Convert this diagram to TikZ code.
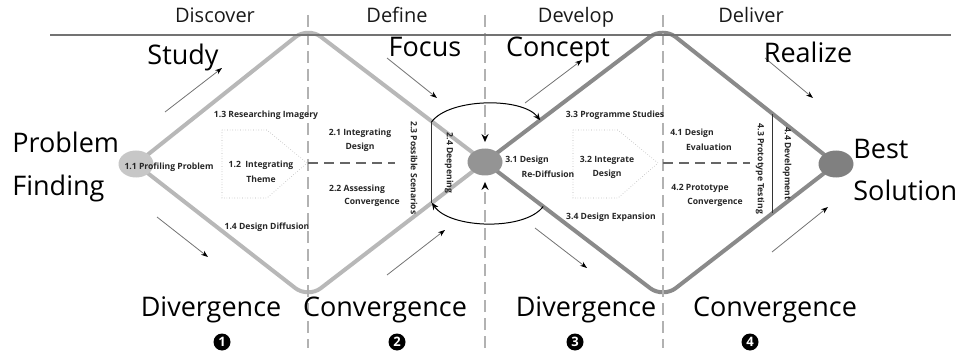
\documentclass[tikz,border=0pt]{standalone}
\usepackage{fontspec}
\setmainfont{Open Sans}
\usetikzlibrary{arrows.meta,calc,shapes.geometric,backgrounds}

\begin{document}
\begin{tikzpicture}[x=0.5pt,y=-0.5pt,
	phase/.style={font=\fontsize{10}{12}\selectfont, text=black!90, anchor=base},
	word/.style={font=\fontsize{13.5}{16}\selectfont, anchor=base, inner sep=0pt},
	lbl/.style={font=\bfseries\fontsize{4.3}{5.5}\selectfont, inner sep=0pt, text=black!85},
	path1/.style={draw=black!28, line width=2pt, rounded corners=8pt},
	path2/.style={draw=black!46, line width=2pt, rounded corners=8pt},
	vtx/.style={ellipse, minimum width=17.5pt, minimum height=13.5pt, inner sep=0pt},
	guide/.style={draw=black!30, line width=1.2pt, dash pattern=on 6pt off 3pt},
	split/.style={draw=black!60, line width=0.8pt, dash pattern=on 5pt off 3pt},
	pent/.style={draw=black!30, densely dotted, line width=0.3pt},
	flow/.style={draw=black!55, line width=0.4pt, -{Stealth[length=3.5pt,width=2.5pt,color=black]}},
	swing/.style={draw=black, line width=0.5pt, -{Stealth[length=3.5pt,width=3pt]}},
	num/.style={circle, fill=black, text=white, font=\bfseries\fontsize{6.5}{7}\selectfont, minimum size=8.5pt, inner sep=0pt},
]

% frame %{{{2

	\useasboundingbox (0,0) rectangle (964,353);

% parameters %{{{2

	\def\ytop{27}
	\def\ybot{298}

% vertices %{{{2

	\node[vtx, fill=black!22] (pf) at (136,164) {};
	\node[vtx, fill=black!42] (ctr) at (485,162) {};
	\node[vtx, fill=black!50] (best) at (836,164) {};

	\coordinate (t1) at (308,\ytop);
	\coordinate (b1) at (308,\ybot);
	\coordinate (t2) at (663,\ytop);
	\coordinate (b2) at (663,\ybot);

% phase guides %{{{2

	\foreach \x in {308,663} { \draw[guide] (\x,15) -- (\x,348); }

	\coordinate (gtop) at (485,15);
	\coordinate (gbot) at (485,348);
	\draw[guide, -{Stealth[length=4pt,width=3.5pt,color=black]}, shorten >=3pt] (gtop) -- (ctr);
	\draw[guide, -{Stealth[length=4pt,width=3.5pt,color=black]}, shorten >=3pt] (gbot) -- (ctr);

	\draw[black!55, line width=0.9pt] (50,35) -- (951,35);

% diamonds %{{{2

	\begin{scope}[on background layer]
		\draw[path1] (pf.center) -- (t1) -- (ctr.center) -- (b1) -- cycle;
		\draw[path2] (ctr.center) -- (t2) -- (best.center) -- (b2) -- cycle;
	\end{scope}

% pentagons and splits %{{{2

	\foreach \dx in {0,351} {
		\draw[pent] (222+\dx,130) -- (267+\dx,130) -- (307+\dx,163) -- (267+\dx,198) -- (222+\dx,198) -- cycle;
	}

	\draw[split] (308,163) -- (395,163);
	\draw[split] (663,163) -- (750,163);

% chords and swings %{{{2

	\coordinate (c1) at ($(t1)!0.7!(ctr)$);
	\coordinate (c2) at ($(b1)!0.7!(ctr)$);
	\coordinate (c3) at ($(t2)!0.635!(best)$);
	\coordinate (c4) at ($(b2)!0.635!(best)$);
	\coordinate (q1) at ($(ctr)!0.31!(t2)$);
	\coordinate (q2) at ($(ctr)!0.327!(b2)$);

	\draw[black!80, line width=0.5pt] (c1) -- (c2);
	\draw[black!80, line width=0.5pt] (c3) -- (c4);

	\draw[swing] (c1) .. controls (450,98) and (522,97) .. (q1);
	\draw[swing] (q2) .. controls (525,231) and (450,229) .. (c2);

% flow arrows %{{{2

	\foreach \xa/\ya/\xb/\yb in {165/112/222/68, 387/58/437/98, 525/103/582/60, 765/58/813/98,
		157/217/208/257, 387/275/445/230, 535/228/587/268, 772/252/828/207} {
		\draw[flow] (\xa,\ya) -- (\xb,\yb);
	}

% phase titles %{{{2

	\node[phase] (dsc) at (215,23) {Discover};
	\node[phase] (dfn) at (397,23) {Define};
	\node[phase] (dvl) at (576,23) {Develop};
	\node[phase] (dlv) at (751,23) {Deliver};

% big words %{{{2

	\node[word] (study) at (183,65) {Study};
	\node[word] (focus) at (425,57) {Focus};
	\node[word] (concept) at (558,57) {Concept};
	\node[word] (realize) at (808,63) {Realize};

	\node[word, anchor=base west] (prob) at (12,153) {Problem};
	\node[word, anchor=base west] (find) at (12,195) {Finding};
	\node[word, anchor=base west] (bst) at (853,158) {Best};
	\node[word, anchor=base west] (sol) at (853,200) {Solution};

	\node[word] (div1) at (211,316) {Divergence};
	\node[word] (con1) at (385,316) {Convergence};
	\node[word] (div2) at (586,316) {Divergence};
	\node[word] (con2) at (775,316) {Convergence};

	\foreach \n/\x in {1/222,2/397,3/575,4/750} {
		\node[num] (n\n) at (\x,342) {\n};
	}

% step labels %{{{2

	\node[lbl] (l11) at (169,167) {1.1 Profiling Problem};
	\node[lbl] (l12) at (261,165) {1.2\ \ Integrating};
	\node[lbl] (l12b) at (261,179) {Theme};
	\node[lbl] (l13) at (266,115) {1.3 Researching Imagery};
	\node[lbl] (l14) at (267,227) {1.4 Design Diffusion};

	\node[lbl] (l21) at (360,133) {2.1 Integrating};
	\node[lbl] (l21b) at (360,147) {Design};
	\node[lbl] (l22) at (357,189) {2.2 Assessing};
	\node[lbl] (l22b) at (372,202) {Convergence};
	\node[lbl, rotate=-90] (l23) at (414,168) {2.3 Possible Scenarios};
	\node[lbl, rotate=-90] (l24) at (449,163) {2.4 Deepening};

	\node[lbl] (l31) at (527,160) {3.1 Design};
	\node[lbl] (l31b) at (548,174) {Re-Diffusion};
	\node[lbl] (l32) at (607,160) {3.2 Integrate};
	\node[lbl] (l32b) at (607,174) {Design};
	\node[lbl] (l33) at (615,115) {3.3 Programme Studies};
	\node[lbl] (l34) at (611,217) {3.4 Design Expansion};

	\node[lbl] (l41) at (692,133) {4.1 Design};
	\node[lbl] (l41b) at (709,147) {Evaluation};
	\node[lbl] (l42) at (700,188) {4.2 Prototype};
	\node[lbl] (l42b) at (715,202) {Convergence};
	\node[lbl, rotate=-90] (l43) at (760,169) {4.3 Prototype Testing};
	\node[lbl, rotate=-90] (l44) at (787,164) {4.4 Development};

% closing %{{{2

\end{tikzpicture}
\end{document}
